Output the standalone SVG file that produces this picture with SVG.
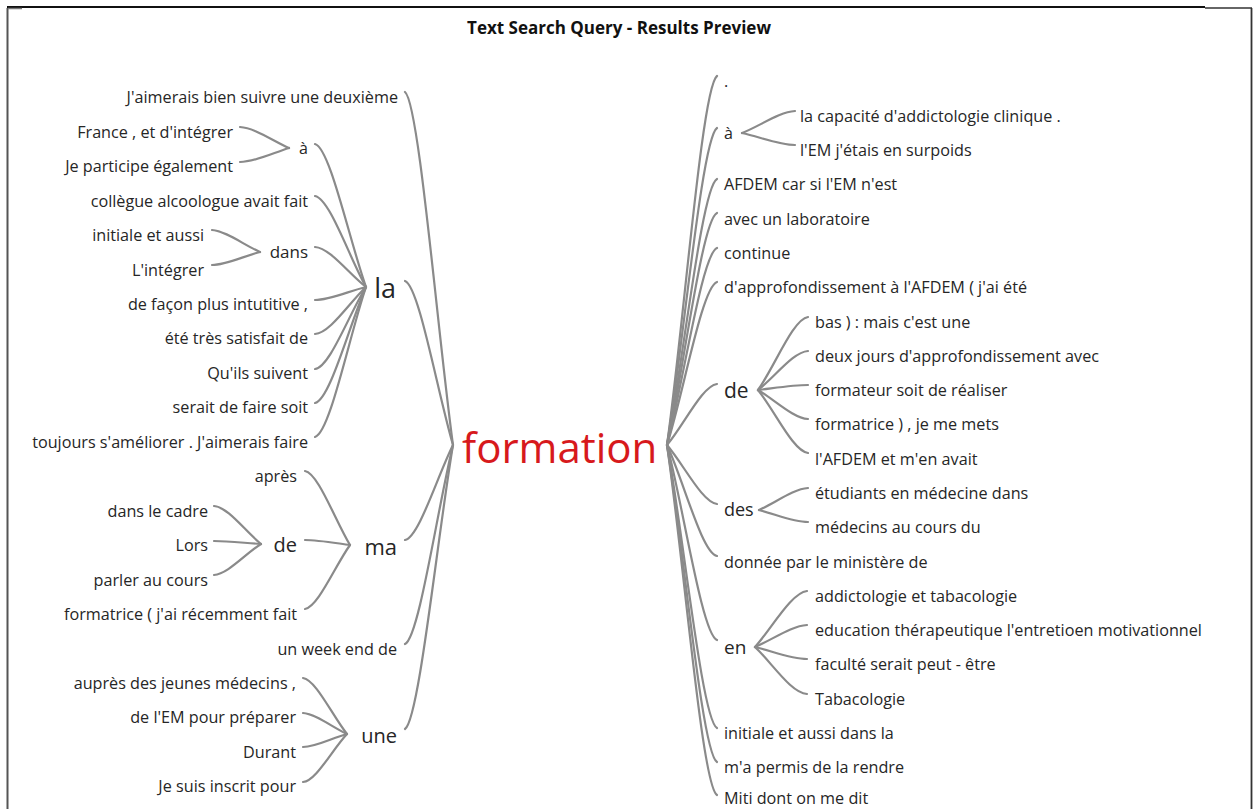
<svg xmlns="http://www.w3.org/2000/svg" width="1254" height="809" viewBox="0 0 1254 809">
<style>
text{font-family:"Open Sans","Noto Sans","Liberation Sans",sans-serif;fill:#262626;font-size:16.2px}
.e{text-anchor:end}
.t{font-weight:bold;font-size:17px;fill:#111;text-anchor:middle}
.root{font-size:42px;fill:#d7191c}
#connectors path{fill:none;stroke:#8a8a8a;stroke-width:2.2;stroke-linecap:round}
</style>
<rect width="1254" height="809" fill="#fff"/>
<g id="frame" fill="none">
<line x1="7" y1="7" x2="1205" y2="7" stroke="#111" stroke-width="1.8"/>
<line x1="1205" y1="8" x2="1252" y2="8" stroke="#333" stroke-width="1.5"/>
<line x1="1251.5" y1="8" x2="1251.5" y2="809" stroke="#333" stroke-width="1.8"/>
<line x1="7.5" y1="8" x2="7.5" y2="809" stroke="#555" stroke-width="2"/>
<line x1="8" y1="8.5" x2="22" y2="8.5" stroke="#777" stroke-width="1.5"/>
</g>
<text class="t" x="619" y="34">Text Search Query - Results Preview</text>
<g id="connectors">
<path d="M453 445C437 327 419 103 405 92"/>
<path d="M453 445C437 390 419 286 405 281"/>
<path d="M453 445C437 477 419 537 405 540"/>
<path d="M453 445C437 511 419 638 405 644"/>
<path d="M453 445C437 540 419 720 405 729"/>
<path d="M366 287C349 239 330 148 315 144"/>
<path d="M366 287C349 257 330 199 315 196"/>
<path d="M366 287C349 274 330 248 315 247"/>
<path d="M366 287C349 291 330 300 315 300"/>
<path d="M366 287C349 303 330 333 315 334"/>
<path d="M366 287C349 314 330 367 315 369"/>
<path d="M366 287C349 326 330 400 315 403"/>
<path d="M366 287C349 337 330 433 315 437"/>
<path d="M289 148C273 141 255 128 240 127"/>
<path d="M289 148C273 153 255 162 240 162"/>
<path d="M260 252C244 245 226 231 212 230"/>
<path d="M260 252C244 256 226 265 212 265"/>
<path d="M350 545C335 520 318 473 305 471"/>
<path d="M350 545C335 543 318 540 305 540"/>
<path d="M350 545C335 566 318 607 305 609"/>
<path d="M261 544C245 531 228 507 214 506"/>
<path d="M261 544C245 543 228 541 214 541"/>
<path d="M261 544C245 554 228 574 214 575"/>
<path d="M347 734C332 715 316 680 303 678"/>
<path d="M347 734C332 727 316 714 303 713"/>
<path d="M347 734C332 738 316 747 303 747"/>
<path d="M347 734C332 750 316 781 303 782"/>
<path d="M667 445C684 322 702 87 717 76"/>
<path d="M667 445C684 339 702 138 717 128"/>
<path d="M667 445C684 356 702 187 717 179"/>
<path d="M667 445C684 368 702 220 717 213"/>
<path d="M667 445C684 379 702 254 717 248"/>
<path d="M667 445C684 391 702 287 717 282"/>
<path d="M667 445C684 425 702 386 717 384"/>
<path d="M667 445C684 465 702 502 717 504"/>
<path d="M667 445C684 482 702 553 717 556"/>
<path d="M667 445C684 510 702 634 717 640"/>
<path d="M667 445C684 539 702 720 717 728"/>
<path d="M667 445C684 551 702 753 717 762"/>
<path d="M667 445C684 562 702 786 717 795"/>
<path d="M742 133C760 126 779 112 795 111"/>
<path d="M742 133C760 137 779 145 795 145"/>
<path d="M758 390C775 366 793 319 808 317"/>
<path d="M758 390C775 377 793 352 808 351"/>
<path d="M758 390C775 388 793 385 808 385"/>
<path d="M758 390C775 400 793 418 808 419"/>
<path d="M758 390C775 411 793 451 808 453"/>
<path d="M759 510C775 503 793 489 808 488"/>
<path d="M759 510C775 514 793 522 808 522"/>
<path d="M755 647C772 628 791 593 807 591"/>
<path d="M755 647C772 640 791 626 807 625"/>
<path d="M755 647C772 651 791 659 807 659"/>
<path d="M755 647C772 663 791 693 807 694"/>
</g>
<g id="n-root"><text class="root" x="462" y="463">formation</text></g>
<g id="n-l-jaimerais"><text class="e" x="398" y="103">J'aimerais bien suivre une deuxième</text></g>
<g id="n-l-la"><text class="e" x="396" y="298" style="font-size:27px">la</text></g>
<g id="n-l-la-a"><text class="e" x="308" y="154" style="font-size:16px">à</text></g>
<g id="n-l-france"><text class="e" x="233" y="137.5">France , et d'intégrer</text></g>
<g id="n-l-participe"><text class="e" x="233" y="172">Je participe également</text></g>
<g id="n-l-collegue"><text class="e" x="308" y="206.5">collègue alcoologue avait fait</text></g>
<g id="n-l-dans"><text class="e" x="308" y="258" style="font-size:17px">dans</text></g>
<g id="n-l-initiale"><text class="e" x="204" y="241">initiale et aussi</text></g>
<g id="n-l-integrer"><text class="e" x="204" y="275.5">L'intégrer</text></g>
<g id="n-l-facon"><text class="e" x="308" y="309.5">de façon plus intutitive ,</text></g>
<g id="n-l-ete"><text class="e" x="308" y="344">été très satisfait de</text></g>
<g id="n-l-quils"><text class="e" x="308" y="378.5">Qu'ils suivent</text></g>
<g id="n-l-serait"><text class="e" x="308" y="413">serait de faire soit</text></g>
<g id="n-l-toujours"><text class="e" x="308" y="447.5">toujours s'améliorer . J'aimerais faire</text></g>
<g id="n-l-ma"><text class="e" x="397" y="555" style="font-size:22px">ma</text></g>
<g id="n-l-apres"><text class="e" x="297" y="482">après</text></g>
<g id="n-l-ma-de"><text class="e" x="297" y="552" style="font-size:20px">de</text></g>
<g id="n-l-cadre"><text class="e" x="208" y="516.5">dans le cadre</text></g>
<g id="n-l-lors"><text class="e" x="208" y="551">Lors</text></g>
<g id="n-l-parler"><text class="e" x="208" y="585.5">parler au cours</text></g>
<g id="n-l-formatrice"><text class="e" x="297" y="620">formatrice ( j'ai récemment fait</text></g>
<g id="n-l-weekend"><text class="e" x="397" y="654.5">un week end de</text></g>
<g id="n-l-une"><text class="e" x="397" y="743" style="font-size:20px">une</text></g>
<g id="n-l-aupres"><text class="e" x="296" y="689">auprès des jeunes médecins ,</text></g>
<g id="n-l-em"><text class="e" x="296" y="723">de l'EM pour préparer</text></g>
<g id="n-l-durant"><text class="e" x="296" y="757.5">Durant</text></g>
<g id="n-l-inscrit"><text class="e" x="296" y="792">Je suis inscrit pour</text></g>
<g id="n-r-dot"><text x="724" y="87">.</text></g>
<g id="n-r-a"><text x="724" y="138.5" style="font-size:16px">à</text></g>
<g id="n-r-capacite"><text x="800" y="121.5">la capacité d'addictologie clinique .</text></g>
<g id="n-r-surpoids"><text x="800" y="156">l'EM j'étais en surpoids</text></g>
<g id="n-r-afdem"><text x="724" y="190">AFDEM car si l'EM n'est</text></g>
<g id="n-r-labo"><text x="724" y="224.5">avec un laboratoire</text></g>
<g id="n-r-continue"><text x="724" y="258.5">continue</text></g>
<g id="n-r-approf"><text x="724" y="293">d'approfondissement à l'AFDEM ( j'ai été</text></g>
<g id="n-r-de"><text x="724" y="398" style="font-size:21px">de</text></g>
<g id="n-r-bas"><text x="815" y="327.5">bas ) : mais c'est une</text></g>
<g id="n-r-deux"><text x="815" y="361.5">deux jours d'approfondissement avec</text></g>
<g id="n-r-formateur"><text x="815" y="396">formateur soit de réaliser</text></g>
<g id="n-r-formatrice"><text x="815" y="430">formatrice ) , je me mets</text></g>
<g id="n-r-lafdem"><text x="815" y="464.5">l'AFDEM et m'en avait</text></g>
<g id="n-r-des"><text x="724" y="516" style="font-size:18px">des</text></g>
<g id="n-r-etudiants"><text x="815" y="499">étudiants en médecine dans</text></g>
<g id="n-r-medecins"><text x="815" y="533">médecins au cours du</text></g>
<g id="n-r-donnee"><text x="724" y="567.5">donnée par le ministère de</text></g>
<g id="n-r-en"><text x="724" y="654" style="font-size:19px">en</text></g>
<g id="n-r-addicto"><text x="815" y="601.5">addictologie et tabacologie</text></g>
<g id="n-r-education"><text x="815" y="636">education thérapeutique l'entretioen motivationnel</text></g>
<g id="n-r-faculte"><text x="815" y="670">faculté serait peut - être</text></g>
<g id="n-r-tabaco"><text x="815" y="704.5">Tabacologie</text></g>
<g id="n-r-initiale"><text x="724" y="739">initiale et aussi dans la</text></g>
<g id="n-r-rendre"><text x="724" y="773">m'a permis de la rendre</text></g>
<g id="n-r-miti"><text x="724" y="804">Miti dont on me dit</text></g>
</svg>
